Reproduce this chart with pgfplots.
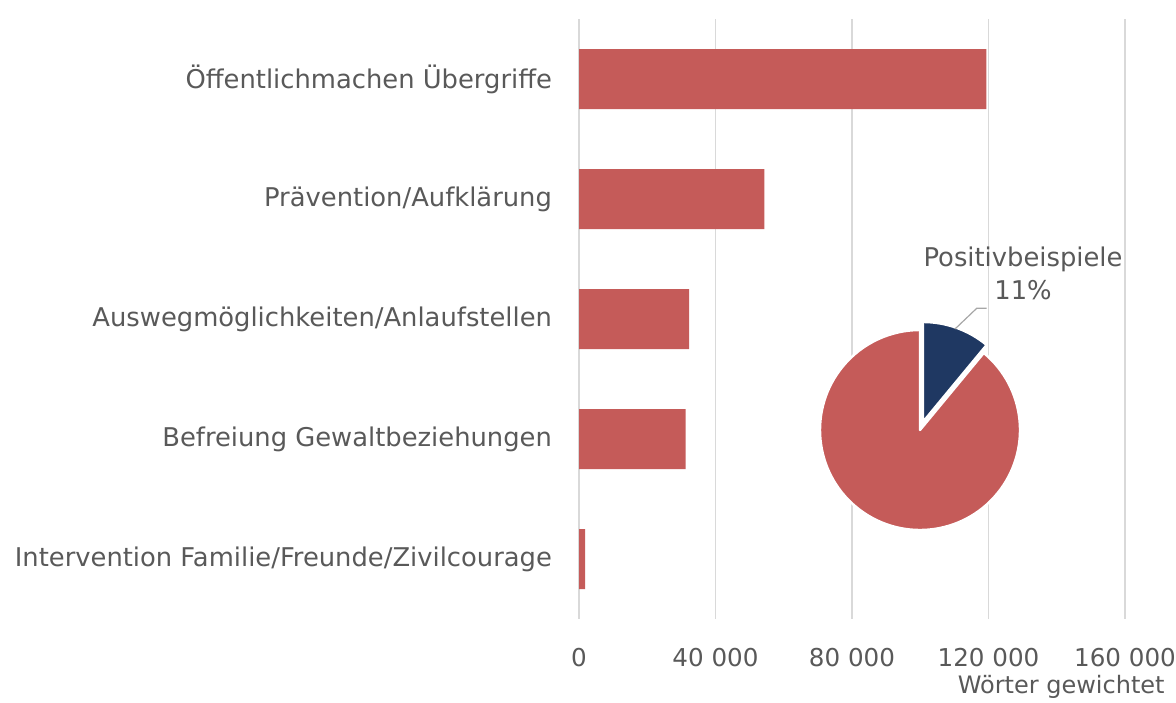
\documentclass[border=0pt]{standalone}
\usepackage{pgfplots}
\pgfplotsset{compat=1.18}
\usepackage{fontspec}
\setmainfont{DejaVu Sans}
\definecolor{barred}{RGB}{197,91,89}
\definecolor{pieblue}{RGB}{31,56,98}
\definecolor{txtgray}{RGB}{89,89,89}
\definecolor{gridgray}{RGB}{217,217,217}
\definecolor{leadgray}{RGB}{166,166,166}
\newcommand{\lbl}{\fontsize{12.9}{14}\selectfont}
\newcommand{\tlbl}{\fontsize{12.3}{14}\selectfont}
\begin{document}
\begin{tikzpicture}
\begin{axis}[
  scale only axis,
  width=273pt, height=300pt,
  at={(289.5pt,41.5pt)}, anchor=south west,
  xbar, bar width=30pt,
  xmin=0, xmax=160000,
  ymin=-0.5, ymax=4.5, y dir=reverse,
  ytick={0,1,2,3,4},
  yticklabels={Öffentlichmachen Übergriffe,Prävention/Aufklärung,Auswegmöglichkeiten/Anlaufstellen,Befreiung Gewaltbeziehungen,Intervention Familie/Freunde/Zivilcourage},
  xtick={0,40000,80000,120000,160000},
  xticklabels={0,40 000,80 000,120 000,160 000},
  xmajorgrids, grid style={gridgray, line width=0.75pt},
  axis line style={draw=none},
  major tick length=0pt,
  yticklabel style={font=\lbl, text=txtgray, anchor=east, xshift=-10pt},
  xticklabel style={font=\tlbl, text=txtgray, anchor=center, yshift=-19.5pt},
  clip=false,
]
\addplot[fill=barred, draw=none] coordinates {(119400,0) (54340,1) (32280,2) (31220,3) (1760,4)};
\node[anchor=east, font=\fontsize{12}{14}\selectfont, text=txtgray, inner sep=0pt] at (axis description cs:1,0) [xshift=20pt, yshift=-34pt] {Wörter gewichtet};
\end{axis}
\def\pos{11}
\pgfmathsetmacro{\sa}{90-3.6*\pos}
\pgfmathsetmacro{\ma}{90-1.8*\pos}
\begin{axis}[
  scale only axis, width=100pt, height=100pt,
  at={(460pt,136pt)}, anchor=center,
  xmin=-1, xmax=1, ymin=-1, ymax=1,
  hide axis, clip=false,
]
\fill[barred, draw=white, line width=1.2pt, line join=round] (axis cs:0,0) -- (axis cs:{cos(\sa)},{sin(\sa)}) arc[start angle=\sa, end angle=-270, radius=50pt] -- cycle;
\fill[pieblue, draw=white, line width=1.2pt, line join=round, shift={(\ma:4.25pt)}] (axis cs:0,0) -- (axis cs:0,1) arc[start angle=90, end angle=\sa, radius=50pt] -- cycle;
\draw[leadgray, line width=0.6pt] (axis cs:0.35,1.01) -- (axis cs:0.567,1.217) -- (axis cs:0.667,1.217);
\node[align=center, font=\fontsize{12.9}{16.5}\selectfont, text=txtgray, inner sep=0pt] at (axis cs:1.03,1.567) {Positivbeispiele\\11\%};
\end{axis}
\pgfresetboundingbox
\useasboundingbox (0,0) rectangle (588pt,351pt);
\end{tikzpicture}
\end{document}
